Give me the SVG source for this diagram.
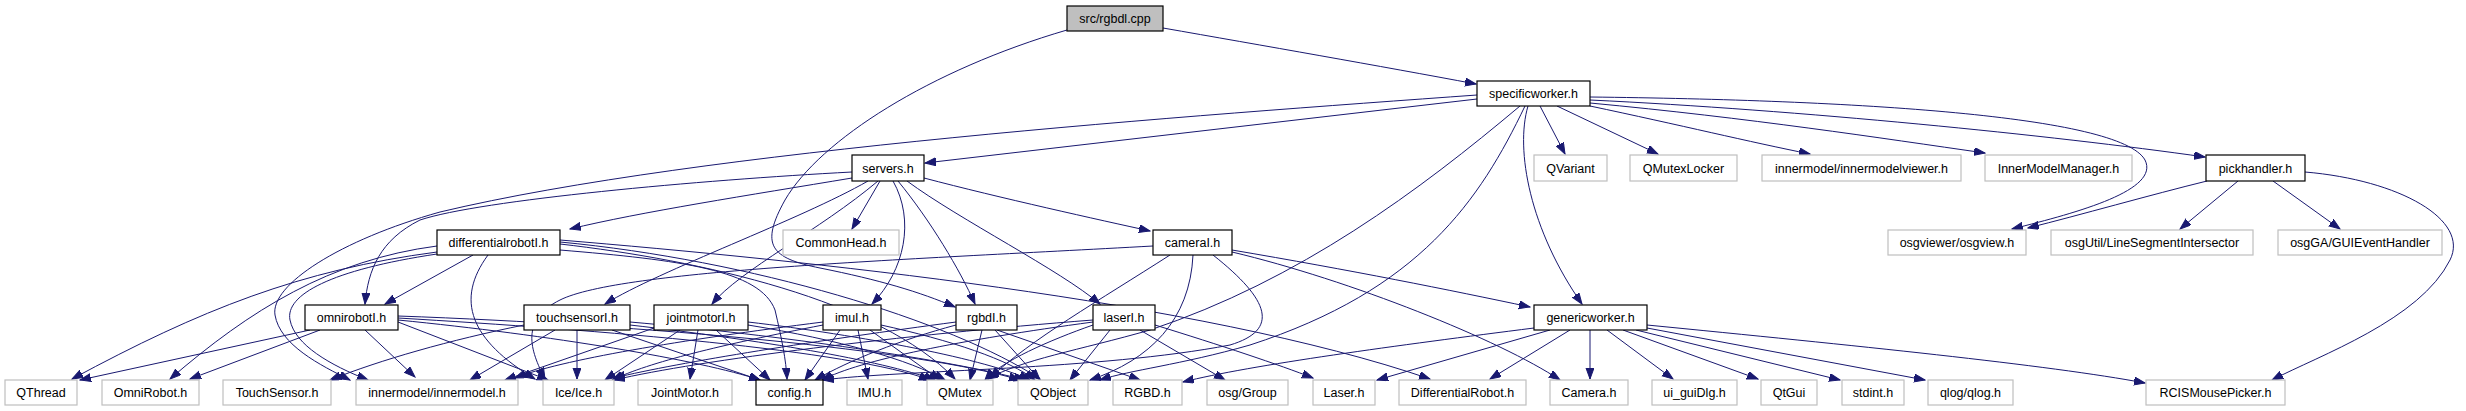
<svg xmlns="http://www.w3.org/2000/svg" width="2466" height="411" viewBox="0 0 2466 411">
<defs>
<marker id="a" markerUnits="userSpaceOnUse" markerWidth="12" markerHeight="9" refX="11" refY="4" orient="auto">
<path d="M0,0 L11,4 L0,8 z" fill="#191970" stroke="#191970" stroke-width="1"/>
</marker>
<style>
.n rect{fill:#fff;stroke:#000;stroke-width:1.2}
.x rect{fill:#fff;stroke:#bfbfbf;stroke-width:1.2}
.r rect{fill:#bfbfbf;stroke:#000;stroke-width:1.2}
text{font-family:"Liberation Sans",Arial,sans-serif;font-size:12.5px;fill:#000;text-anchor:middle}
#edges path{fill:none;stroke:#191970;stroke-width:1;marker-end:url(#a)}
</style>
</defs>
<rect width="2466" height="411" fill="#fff"/>
<g id="edges">
<path d="M1163,28 C1260,45 1380,66 1476,84"/>
<path d="M1067,30 C930,70 820,140 785,200 C760,245 770,258 820,268 C880,280 920,292 955,307"/>
<path d="M1477,99 L925,163"/>
<path d="M1477,95 C1200,115 700,150 440,212 C340,240 270,285 275,315 C280,345 320,365 350,380"/>
<path d="M1540,106 L1565,154"/>
<path d="M1557,106 L1658,154"/>
<path d="M1590,106 C1680,125 1750,142 1810,154"/>
<path d="M1590,103 C1750,118 1880,138 1985,153"/>
<path d="M1590,100 C1800,110 2050,135 2205,157"/>
<path d="M1590,97 C1850,100 2120,115 2145,160 C2160,190 2080,212 2012,229"/>
<path d="M1528,106 C1515,150 1530,230 1582,304"/>
<path d="M1520,106 C1420,190 1300,280 1150,330 C1080,350 1020,360 988,379"/>
<path d="M1525,106 C1480,200 1420,290 1250,345 C1180,365 1130,370 1100,380"/>
<path d="M852,178 C750,195 640,212 570,229"/>
<path d="M852,172 C700,180 480,200 420,220 C380,240 368,270 365,304"/>
<path d="M868,181 C800,220 660,270 605,304"/>
<path d="M878,181 C820,230 740,270 712,304"/>
<path d="M880,181 L852,229"/>
<path d="M893,181 C915,220 905,270 872,304"/>
<path d="M898,181 C930,220 960,270 975,304"/>
<path d="M907,181 C960,220 1060,270 1100,304"/>
<path d="M924,178 C1000,198 1100,220 1150,231"/>
<path d="M473,255 L385,304"/>
<path d="M437,252 C300,270 200,310 72,379"/>
<path d="M437,246 C330,260 250,310 170,379"/>
<path d="M437,254 C330,270 285,295 290,320 C295,345 330,365 368,380"/>
<path d="M488,255 C455,300 470,340 535,379"/>
<path d="M560,250 C680,260 760,270 775,310 C782,340 786,360 787,379"/>
<path d="M560,244 C700,260 880,300 955,379"/>
<path d="M560,242 C750,260 950,320 1040,379"/>
<path d="M560,240 C800,260 1200,300 1430,379"/>
<path d="M310,330 L80,380"/>
<path d="M320,330 L190,379"/>
<path d="M365,330 L415,377"/>
<path d="M398,322 L548,380"/>
<path d="M398,320 C550,335 700,360 760,380"/>
<path d="M398,318 C600,330 850,350 930,380"/>
<path d="M398,316 C650,325 920,350 1020,380"/>
<path d="M524,325 C450,340 380,360 330,380"/>
<path d="M555,330 L470,380"/>
<path d="M577,330 L577,379"/>
<path d="M612,330 L760,380"/>
<path d="M630,325 C760,340 880,360 935,380"/>
<path d="M630,322 C780,335 950,360 1025,380"/>
<path d="M698,330 L690,379"/>
<path d="M654,328 L505,380"/>
<path d="M680,330 L605,380"/>
<path d="M716,330 L770,380"/>
<path d="M748,325 C840,340 910,360 945,380"/>
<path d="M748,322 C860,335 990,360 1030,380"/>
<path d="M858,330 L868,379"/>
<path d="M840,330 L805,380"/>
<path d="M870,330 L940,380"/>
<path d="M881,325 C950,340 1010,360 1035,380"/>
<path d="M823,325 C720,345 650,362 612,380"/>
<path d="M823,322 C680,340 560,360 515,378"/>
<path d="M997,330 L1140,380"/>
<path d="M982,330 L970,380"/>
<path d="M995,330 L1040,380"/>
<path d="M956,325 C900,340 850,360 815,380"/>
<path d="M956,322 C820,340 680,362 614,378"/>
<path d="M1155,325 C1220,345 1280,365 1313,378"/>
<path d="M1140,330 L1225,380"/>
<path d="M1110,330 L1070,380"/>
<path d="M1093,325 C1050,340 1000,362 985,380"/>
<path d="M1093,322 C960,340 860,360 822,380"/>
<path d="M1093,320 C900,335 700,360 614,380"/>
<path d="M1232,250 C1350,270 1450,290 1530,307"/>
<path d="M1232,252 C1350,280 1500,340 1560,380"/>
<path d="M1193,255 C1190,320 1150,360 1090,380"/>
<path d="M1170,255 C1100,300 1030,340 990,378"/>
<path d="M1153,246 C900,260 620,270 560,300 C520,320 530,350 545,379"/>
<path d="M1213,255 C1270,300 1280,330 1230,345 C1100,370 900,370 823,380"/>
<path d="M1534,328 C1400,345 1250,365 1183,382"/>
<path d="M1550,330 L1377,380"/>
<path d="M1570,330 L1490,379"/>
<path d="M1590,330 L1590,379"/>
<path d="M1607,330 L1673,379"/>
<path d="M1623,330 L1758,379"/>
<path d="M1636,330 L1840,380"/>
<path d="M1647,328 L1925,380"/>
<path d="M1647,325 C1850,345 2050,365 2145,383"/>
<path d="M2207,181 C2150,195 2080,215 2028,228"/>
<path d="M2238,181 L2180,229"/>
<path d="M2273,181 L2340,229"/>
<path d="M2305,172 C2400,180 2470,220 2450,260 C2420,320 2320,355 2272,380"/>
</g>
<g id="n_root" class="r"><rect x="1067" y="6" width="96" height="25"/><text x="1115" y="23">src/rgbdl.cpp</text></g>
<g id="n_specificworker" class="n"><rect x="1477" y="81" width="113" height="25"/><text x="1533.5" y="98">specificworker.h</text></g>
<g id="n_servers" class="n"><rect x="852" y="155" width="72" height="26"/><text x="888" y="172.5">servers.h</text></g>
<g id="n_qvariant" class="x"><rect x="1534" y="155" width="73" height="26"/><text x="1570.5" y="172.5">QVariant</text></g>
<g id="n_qmutexlocker" class="x"><rect x="1630" y="155" width="107" height="26"/><text x="1683.5" y="172.5">QMutexLocker</text></g>
<g id="n_imviewer" class="x"><rect x="1762" y="155" width="199" height="26"/><text x="1861.5" y="172.5">innermodel/innermodelviewer.h</text></g>
<g id="n_immanager" class="x"><rect x="1985" y="155" width="147" height="26"/><text x="2058.5" y="172.5">InnerModelManager.h</text></g>
<g id="n_pickhandler" class="n"><rect x="2206" y="155" width="99" height="26"/><text x="2255.5" y="172.5">pickhandler.h</text></g>
<g id="n_diffI" class="n"><rect x="437" y="230" width="123" height="25"/><text x="498.5" y="247">differentialrobotI.h</text></g>
<g id="n_commonhead" class="x"><rect x="783" y="230" width="116" height="25"/><text x="841" y="247">CommonHead.h</text></g>
<g id="n_cameraI" class="n"><rect x="1153" y="230" width="79" height="25"/><text x="1192.5" y="247">cameraI.h</text></g>
<g id="n_osgview" class="x"><rect x="1888" y="230" width="138" height="25"/><text x="1957" y="247">osgviewer/osgview.h</text></g>
<g id="n_lsi" class="x"><rect x="2051" y="230" width="202" height="25"/><text x="2152" y="247">osgUtil/LineSegmentIntersector</text></g>
<g id="n_guievh" class="x"><rect x="2278" y="230" width="164" height="25"/><text x="2360" y="247">osgGA/GUIEventHandler</text></g>
<g id="n_omniI" class="n"><rect x="305" y="305" width="93" height="25"/><text x="351.5" y="322">omnirobotI.h</text></g>
<g id="n_touchI" class="n"><rect x="524" y="305" width="106" height="25"/><text x="577" y="322">touchsensorI.h</text></g>
<g id="n_jointI" class="n"><rect x="654" y="305" width="94" height="25"/><text x="701" y="322">jointmotorI.h</text></g>
<g id="n_imuI" class="n"><rect x="823" y="305" width="58" height="25"/><text x="852" y="322">imuI.h</text></g>
<g id="n_rgbdI" class="n"><rect x="956" y="305" width="61" height="25"/><text x="986.5" y="322">rgbdI.h</text></g>
<g id="n_laserI" class="n"><rect x="1093" y="305" width="62" height="25"/><text x="1124" y="322">laserI.h</text></g>
<g id="n_genericworker" class="n"><rect x="1534" y="305" width="113" height="25"/><text x="1590.5" y="322">genericworker.h</text></g>
<g id="n_qthread" class="x"><rect x="5" y="380" width="72" height="25"/><text x="41" y="397">QThread</text></g>
<g id="n_omnirobot" class="x"><rect x="102" y="380" width="97" height="25"/><text x="150.5" y="397">OmniRobot.h</text></g>
<g id="n_touchsensor" class="x"><rect x="223" y="380" width="108" height="25"/><text x="277" y="397">TouchSensor.h</text></g>
<g id="n_innermodel" class="x"><rect x="356" y="380" width="162" height="25"/><text x="437" y="397">innermodel/innermodel.h</text></g>
<g id="n_ice" class="x"><rect x="543" y="380" width="71" height="25"/><text x="578.5" y="397">Ice/Ice.h</text></g>
<g id="n_jointmotor" class="x"><rect x="638" y="380" width="94" height="25"/><text x="685" y="397">JointMotor.h</text></g>
<g id="n_config" class="n"><rect x="756" y="380" width="67" height="25"/><text x="789.5" y="397">config.h</text></g>
<g id="n_imu" class="x"><rect x="847" y="380" width="55" height="25"/><text x="874.5" y="397">IMU.h</text></g>
<g id="n_qmutex" class="x"><rect x="927" y="380" width="66" height="25"/><text x="960" y="397">QMutex</text></g>
<g id="n_qobject" class="x"><rect x="1018" y="380" width="70" height="25"/><text x="1053" y="397">QObject</text></g>
<g id="n_rgbd" class="x"><rect x="1113" y="380" width="69" height="25"/><text x="1147.5" y="397">RGBD.h</text></g>
<g id="n_osggroup" class="x"><rect x="1207" y="380" width="81" height="25"/><text x="1247.5" y="397">osg/Group</text></g>
<g id="n_laser" class="x"><rect x="1313" y="380" width="62" height="25"/><text x="1344" y="397">Laser.h</text></g>
<g id="n_diffrobot" class="x"><rect x="1399" y="380" width="127" height="25"/><text x="1462.5" y="397">DifferentialRobot.h</text></g>
<g id="n_camera" class="x"><rect x="1550" y="380" width="78" height="25"/><text x="1589" y="397">Camera.h</text></g>
<g id="n_uiguidlg" class="x"><rect x="1652" y="380" width="85" height="25"/><text x="1694.5" y="397">ui_guiDlg.h</text></g>
<g id="n_qtgui" class="x"><rect x="1761" y="380" width="56" height="25"/><text x="1789" y="397">QtGui</text></g>
<g id="n_stdint" class="x"><rect x="1842" y="380" width="62" height="25"/><text x="1873" y="397">stdint.h</text></g>
<g id="n_qlog" class="x"><rect x="1928" y="380" width="85" height="25"/><text x="1970.5" y="397">qlog/qlog.h</text></g>
<g id="n_rcismp" class="x"><rect x="2146" y="380" width="139" height="25"/><text x="2215.5" y="397">RCISMousePicker.h</text></g>
</svg>
